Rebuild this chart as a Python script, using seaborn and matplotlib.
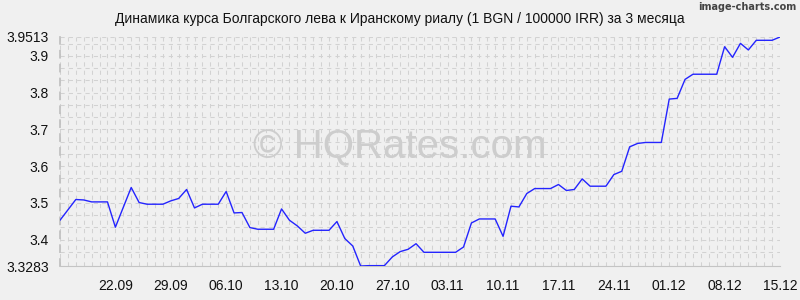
import numpy as np
import pandas as pd
import matplotlib
matplotlib.use("Agg")
import matplotlib.pyplot as plt
import matplotlib.dates as mdates
from matplotlib.ticker import FixedLocator
import seaborn as sns

start_date = "2024-09-15"
end_date = "2024-12-15"
rates = [
    3.4528, 3.4810, 3.5092, 3.5080, 3.5027, 3.5027, 3.5027, 3.4338, 3.4880, 3.5419,
    3.5010, 3.4964, 3.4964, 3.4964, 3.5055, 3.5120, 3.5365, 3.4863, 3.4964, 3.4964,
    3.4964, 3.5310, 3.4727, 3.4738, 3.4329, 3.4283, 3.4283, 3.4283, 3.4836, 3.4528,
    3.4373, 3.4174, 3.4255, 3.4255, 3.4255, 3.4492, 3.4029, 3.3828, 3.3283, 3.3293,
    3.3293, 3.3293, 3.3530, 3.3675, 3.3738, 3.3890, 3.3656, 3.3656, 3.3656, 3.3656,
    3.3656, 3.3800, 3.4454, 3.4563, 3.4563, 3.4563, 3.4090, 3.4910, 3.4890, 3.5255,
    3.5390, 3.5390, 3.5390, 3.5500, 3.5337, 3.5365, 3.5653, 3.5454, 3.5454, 3.5454,
    3.5770, 3.5860, 3.6525, 3.6617, 3.6644, 3.6644, 3.6644, 3.7824, 3.7843, 3.8360,
    3.8500, 3.8500, 3.8500, 3.8500, 3.9249, 3.8960, 3.9340, 3.9160, 3.9423, 3.9423,
    3.9423, 3.9513,
]
x_tick_labels = ["22.09", "29.09", "06.10", "13.10", "20.10", "27.10", "03.11",
                 "10.11", "17.11", "24.11", "01.12", "08.12", "15.12"]
y_ticks = [3.3283, 3.4, 3.5, 3.6, 3.7, 3.8, 3.9, 3.9513]
title = "Динамика курса Болгарского лева к Иранскому риалу (1 BGN / 100000 IRR) за 3 месяца"

dates = pd.date_range(start_date, end_date, freq="D")
df = pd.DataFrame({"date": dates, "rate": rates})

sns.set_theme(style="white")
plt.rcParams["font.family"] = ["Liberation Sans", "DejaVu Sans"]

bg = "#f0f0f0"
fig = plt.figure(figsize=(8, 3), dpi=100, facecolor=bg)
ax = fig.add_axes([0.075, 0.1133, 0.9, 0.7634])
ax.set_facecolor("none")

# watermark
fig.text(0.5, 0.51, "© HQRates.com", ha="center", va="center",
         fontsize=29, color="#cdcdcd", zorder=0)
fig.text(0.996, 0.978, "image-charts.com", ha="right", va="center",
         fontsize=7, color="#444444", family="DejaVu Sans", fontweight="bold")

sns.lineplot(data=df, x="date", y="rate", ax=ax, color="#2424ff", linewidth=1.0, zorder=3)

ax.set_xlim(dates[0], dates[-1])
ax.set_ylim(y_ticks[0], y_ticks[-1])

tick_dates = [pd.to_datetime(d + ".2024", format="%d.%m.%Y") for d in x_tick_labels]
ax.set_xticks(tick_dates)
ax.set_xticklabels(x_tick_labels)
ax.xaxis.set_minor_locator(mdates.DayLocator())
ax.set_yticks(y_ticks)
ax.set_yticklabels([f"{v:g}" for v in y_ticks])
minor_y = [3.0 + k / 30 for k in range(0, 31)]
minor_y = [v for v in minor_y if y_ticks[0] + 0.01 < v < y_ticks[-1] - 0.01]
ax.yaxis.set_minor_locator(FixedLocator(minor_y))

grid_kw = dict(color="#d2d2d2", linewidth=0.75, linestyle=(0, (4, 4)))
ax.grid(True, which="both", axis="both", **grid_kw)
ax.set_axisbelow(True)

for s in ["top", "right"]:
    ax.spines[s].set_visible(False)
ax.spines["left"].set_color("#c0c0c0")
ax.spines["left"].set_linestyle((0, (4, 4)))
ax.spines["bottom"].set_color("#c4c4c4")
ax.spines["bottom"].set_linewidth(0.8)

ax.tick_params(axis="both", which="major", labelsize=10, colors="#c8c8c8",
               labelcolor="#111111")
ax.tick_params(axis="y", which="major", length=5, pad=3)
ax.tick_params(axis="x", which="major", length=0, pad=9)
ax.tick_params(axis="x", which="minor", length=3, color="#cccccc", direction="out")
ax.tick_params(axis="y", which="minor", length=0)

ax.set_xlabel("")
ax.set_ylabel("")
fig.text(0.5, 0.937, title, ha="center", va="center", fontsize=10, color="#111111")

fig.savefig("out.png", dpi=100, facecolor=bg)
